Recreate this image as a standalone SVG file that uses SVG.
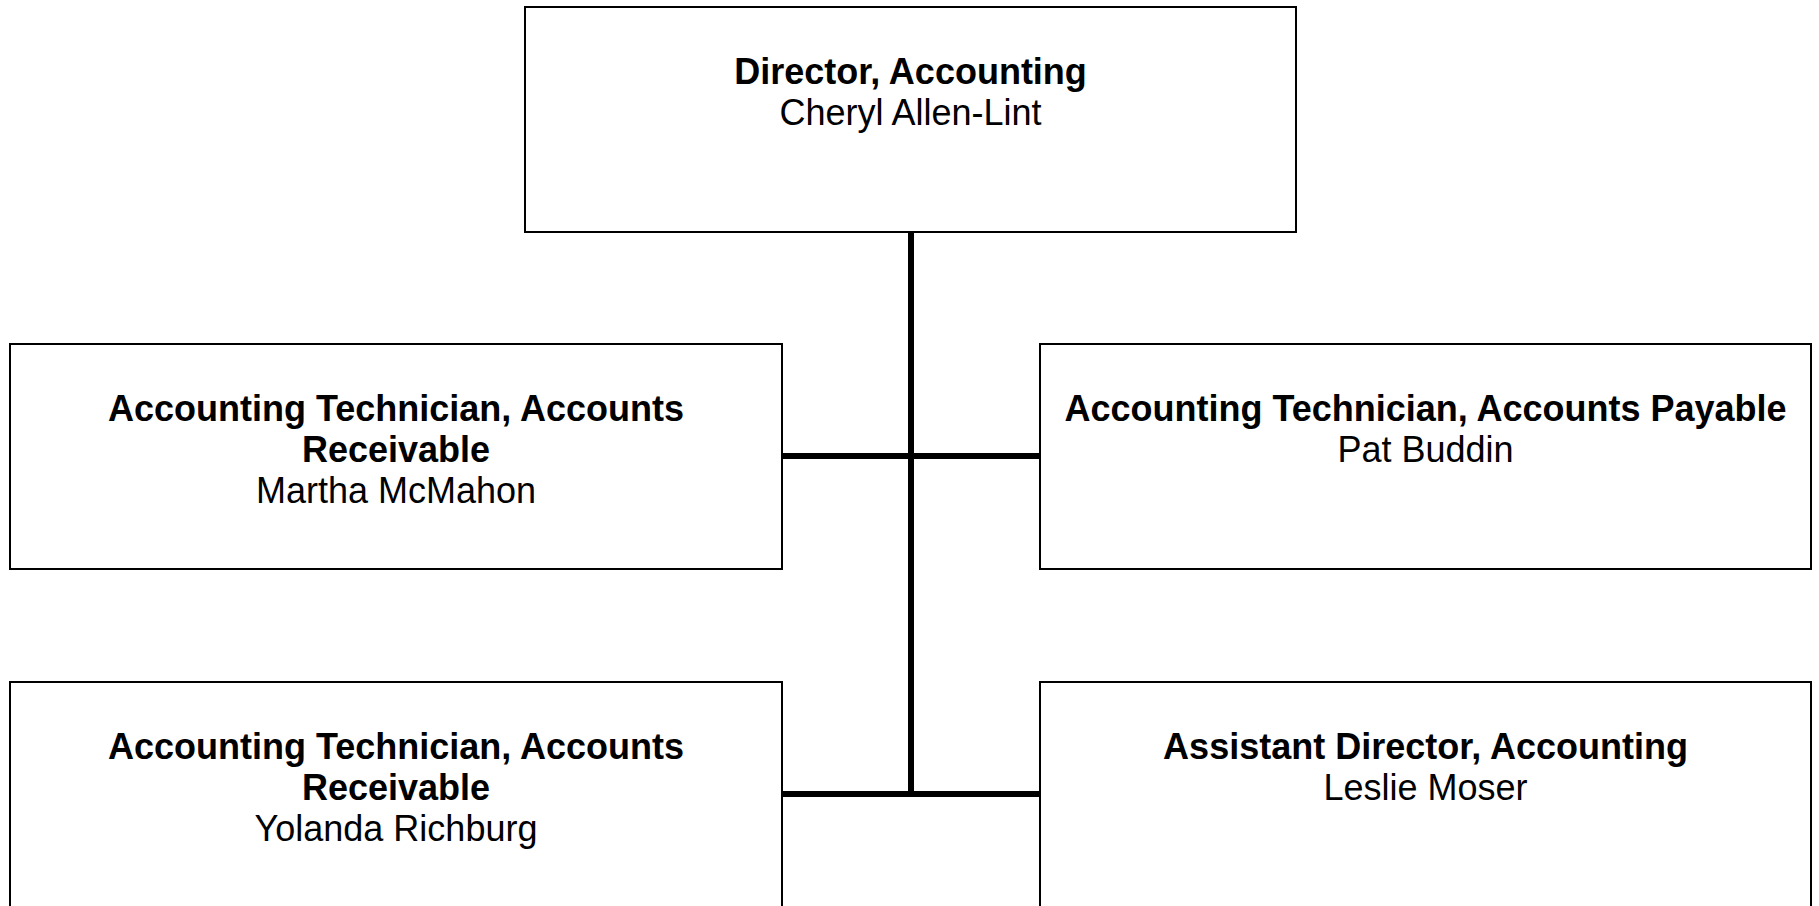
<svg xmlns="http://www.w3.org/2000/svg" width="1819" height="906" viewBox="0 0 1819 906">
<style>
.box{fill:#fff;stroke:#000;stroke-width:2}
.t{font-family:"Liberation Sans",Arial,sans-serif;font-size:36px;text-anchor:middle;fill:#000}
.b{font-weight:bold}
.c{stroke:#000;stroke-width:6;fill:none}
</style>
<rect width="1819" height="906" fill="#fff"/>
<g id="connectors">
<line class="c" x1="911" y1="232" x2="911" y2="794"/>
<line class="c" x1="782" y1="456" x2="1040" y2="456"/>
<line class="c" x1="782" y1="794" x2="1040" y2="794"/>
</g>
<g id="director">
<rect class="box" x="525" y="7" width="771" height="225"/>
<text class="t b" x="910.5" y="84">Director, Accounting</text>
<text class="t" x="910.5" y="125">Cheryl Allen-Lint</text>
</g>
<g id="tech-ar-mcmahon">
<rect class="box" x="10" y="344" width="772" height="225"/>
<text class="t b" x="396" y="421">Accounting Technician, Accounts</text>
<text class="t b" x="396" y="462">Receivable</text>
<text class="t" x="396" y="503">Martha McMahon</text>
</g>
<g id="tech-ap-buddin">
<rect class="box" x="1040" y="344" width="771" height="225"/>
<text class="t b" x="1425.5" y="421">Accounting Technician, Accounts Payable</text>
<text class="t" x="1425.5" y="462">Pat Buddin</text>
</g>
<g id="tech-ar-richburg">
<rect class="box" x="10" y="682" width="772" height="225"/>
<text class="t b" x="396" y="759">Accounting Technician, Accounts</text>
<text class="t b" x="396" y="800">Receivable</text>
<text class="t" x="396" y="841">Yolanda Richburg</text>
</g>
<g id="asst-director">
<rect class="box" x="1040" y="682" width="771" height="225"/>
<text class="t b" x="1425.5" y="759">Assistant Director, Accounting</text>
<text class="t" x="1425.5" y="800">Leslie Moser</text>
</g>
</svg>
